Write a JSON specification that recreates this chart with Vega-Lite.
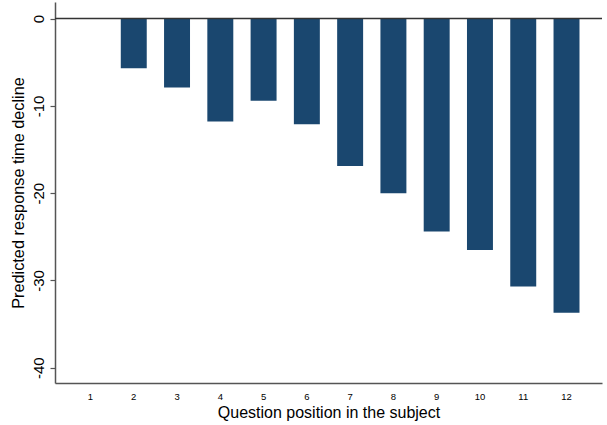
{
  "$schema": "https://vega.github.io/schema/vega-lite/v6.json",
  "width": 547,
  "height": 381,
  "autosize": "none",
  "padding": {"left": 55, "top": 2, "right": 5, "bottom": 42},
  "background": "white",
  "config": {
    "view": {"stroke": null},
    "font": "Liberation Sans"
  },
  "data": {
    "values": [
      {"position": "1", "decline": 0},
      {"position": "2", "decline": -5.7},
      {"position": "3", "decline": -7.9},
      {"position": "4", "decline": -11.8},
      {"position": "5", "decline": -9.4},
      {"position": "6", "decline": -12.1},
      {"position": "7", "decline": -16.9},
      {"position": "8", "decline": -20.0},
      {"position": "9", "decline": -24.4},
      {"position": "10", "decline": -26.5},
      {"position": "11", "decline": -30.7},
      {"position": "12", "decline": -33.7}
    ]
  },
  "layer": [
    {
      "mark": {"type": "bar", "color": "#1a476f"},
      "encoding": {
        "x": {
          "field": "position",
          "type": "ordinal",
          "sort": null,
          "scale": {"paddingInner": 0.4, "paddingOuter": 0.52},
          "axis": {
            "title": "Question position in the subject",
            "titleFontSize": 16,
            "titleFontWeight": "normal",
            "titleColor": "#000",
            "titlePadding": 4,
            "labelAngle": 0,
            "labelFontSize": 9.5,
            "labelColor": "#000",
            "labelPadding": 8,
            "ticks": false,
            "domainColor": "#555",
            "domainWidth": 1.5
          }
        },
        "y": {
          "field": "decline",
          "type": "quantitative",
          "scale": {"domain": [-41.75, 1.9], "nice": false, "zero": false},
          "axis": {
            "title": "Predicted response time decline",
            "titleFontSize": 16.3,
            "titleFontWeight": "normal",
            "titleColor": "#000",
            "titlePadding": 5,
            "values": [0, -10, -20, -30, -40],
            "labelExpr": "'' + datum.value",
            "labelAngle": -90,
            "labelAlign": "center",
            "labelBaseline": "bottom",
            "labelFontSize": 15,
            "labelColor": "#000",
            "labelPadding": 4,
            "tickSize": 5,
            "tickColor": "#555",
            "tickWidth": 1.2,
            "domainColor": "#555",
            "domainWidth": 1.5,
            "grid": false
          }
        }
      }
    },
    {
      "data": {"values": [{"y": 0}]},
      "mark": {"type": "rule", "color": "#333", "strokeWidth": 1.5},
      "encoding": {
        "y": {"field": "y", "type": "quantitative"}
      }
    }
  ]
}
